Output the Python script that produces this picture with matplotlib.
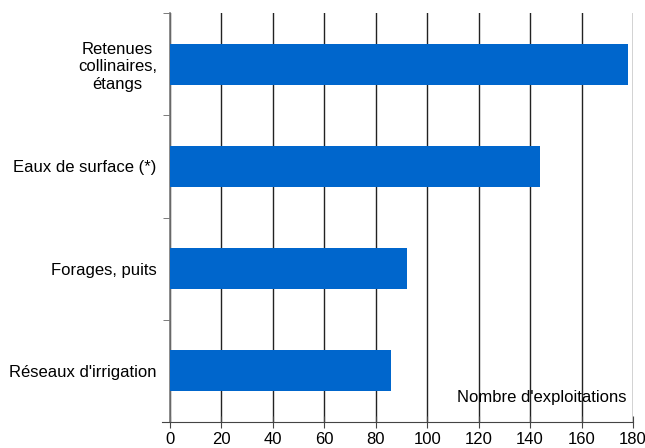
import matplotlib.pyplot as plt
import numpy as np

plt.rcParams['font.family'] = ['Liberation Sans', 'DejaVu Sans']

# sources d'eau, du bas vers le haut
categories = ["Réseaux d'irrigation", "Forages, puits", "Eaux de surface (*)",
              "Retenues\ncollinaires,\nétangs"]
exploitations = [86, 92, 144, 178]
xticks = [0, 20, 40, 60, 80, 100, 120, 140, 160, 180]

fig = plt.figure(figsize=(6.45, 4.48), dpi=100)
ax = fig.add_axes([0.2636, 0.058, 0.7178, 0.913])

y = np.arange(len(categories))
ax.barh(y, exploitations, height=0.4, color="#0066CC", zorder=3)

ax.set_xlim(0, 180)
ax.set_ylim(-0.5, len(categories) - 0.5)
ax.set_xticks(xticks)
ax.set_xticklabels([str(v) for v in xticks], fontsize=12)
ax.xaxis.grid(True, color="#222222", linewidth=1.0, zorder=0)
ax.tick_params(axis="x", direction="inout", length=8, color="#444444", pad=3)

# libellés au centre des barres, tirets aux limites de catégorie
ax.set_yticks(y)
ax.set_yticklabels(categories, fontsize=12, multialignment="center")
ax.set_yticks(np.arange(-0.5, len(categories)), minor=True)
ax.tick_params(axis="y", which="major", length=0, pad=9.5)
ax.tick_params(axis="y", which="minor", direction="out", length=5, color="#666666")

for side in ("top", "right"):
    ax.spines[side].set_visible(False)
ax.spines["left"].set_color("#777777")
ax.spines["left"].set_linewidth(1.2)
ax.spines["bottom"].set_color("#444444")
ax.spines["bottom"].set_bounds(-3, 180)

ax.text(0.985, 0.06, "Nombre d'exploitations", transform=ax.transAxes,
        ha="right", va="center", fontsize=12, zorder=4)

fig.savefig("out.png", dpi=100)
